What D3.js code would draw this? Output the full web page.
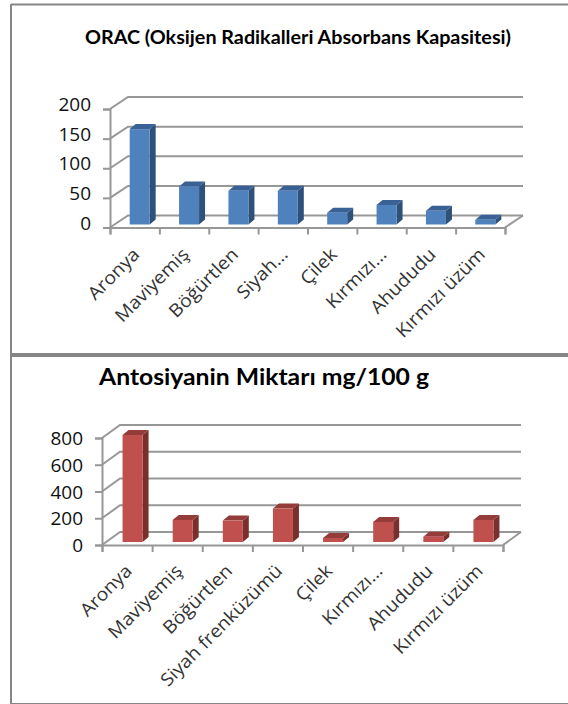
<!DOCTYPE html>
<html>
<head>
<meta charset="utf-8">
<script src="https://cdn.jsdelivr.net/npm/d3@7"></script>
<style>
  html, body { margin: 0; padding: 0; background: #fff; }
  svg { display: block; }
</style>
</head>
<body>
<svg id="chart" width="568" height="704"></svg>
<script>
var oracTitle = "ORAC (Oksijen Radikalleri Absorbans Kapasitesi)";
var oracLabels = ["Aronya", "Maviyemiş", "Böğürtlen", "Siyah…", "Çilek", "Kırmızı…", "Ahududu", "Kırmızı üzüm"];
var oracValues = [161, 64, 57, 57, 20, 33, 23, 8];
var oracTicks = [0, 50, 100, 150, 200];

var antoTitle = "Antosiyanin Miktarı mg/100 g";
var antoLabels = ["Aronya", "Maviyemiş", "Böğürtlen", "Siyah frenküzümü", "Çilek", "Kırmızı…", "Ahududu", "Kırmızı üzüm"];
var antoValues = [800, 165, 160, 250, 30, 150, 40, 165];
var antoTicks = [0, 200, 400, 600, 800];

var svg = d3.select("#chart");
var frameColor = "#868686", gridColor = "#979797";

// panel frame
svg.append("path")
	.attr("d", "M11,4.5H568M11,4V704H568")
	.attr("fill", "none")
	.attr("stroke", frameColor)
	.attr("stroke-width", 2);
svg.append("rect").attr("x", 10).attr("y", 353).attr("width", 558).attr("height", 4).attr("fill", frameColor);

function drawPanel(opt) {
	var g = svg.append("g");
	var x = d3.scaleBand().domain(opt.labels).range([opt.x0, opt.x1]).paddingInner(0).paddingOuter(0);
	var xTicks = d3.scaleLinear().domain([0, opt.labels.length]).range([opt.x0, opt.x1]);
	var y = d3.scaleLinear().domain([0, opt.ticks[opt.ticks.length - 1]]).range([opt.y0, opt.y1]);
	var barW = opt.barW, dx = opt.dx, dy = opt.dy;

	g.append("text")
		.attr("x", opt.titleX).attr("y", opt.titleY)
		.attr("text-anchor", "middle")
		.attr("font-family", "Lato")
		.attr("font-weight", "bold")
		.attr("font-size", opt.titleSize)
		.attr("textLength", opt.titleLen)
		.attr("lengthAdjust", "spacingAndGlyphs")
		.attr("fill", "#000")
		.text(opt.title);

	// back wall gridlines and the slanted side wall
	opt.ticks.forEach(function (t) {
		g.append("path")
			.attr("d", "M" + opt.x0 + "," + y(t) + "L" + (opt.x0 + opt.wallX) + "," + (y(t) - opt.wallY) + "H" + (opt.x1 + opt.wallX))
			.attr("fill", "none")
			.attr("stroke", gridColor)
			.attr("stroke-width", 2);
	});
	// floor right edge
	g.append("line")
		.attr("x1", opt.x1).attr("y1", opt.y0)
		.attr("x2", opt.x1 + opt.wallX).attr("y2", opt.y0 - opt.wallY)
		.attr("stroke", gridColor).attr("stroke-width", 2);

	var yAxis = d3.axisLeft(y).tickValues(opt.ticks).tickSize(7).tickPadding(12);
	var yg = g.append("g").attr("transform", "translate(" + opt.x0 + ",0)").call(yAxis);
	yg.selectAll("text")
		.attr("font-family", "Open Sans")
		.attr("font-size", 19)
		.attr("fill", "#111")
		.attr("y", opt.tickShift);

	var xAxis = d3.axisBottom(xTicks).ticks(opt.labels.length).tickSize(7).tickFormat("");
	g.append("g").attr("transform", "translate(0," + opt.y0 + ")").call(xAxis);

	g.selectAll(".domain").attr("stroke", gridColor).attr("stroke-width", 2);
	g.selectAll(".tick line").attr("stroke", gridColor).attr("stroke-width", 2);

	// 3D columns
	var bars = g.selectAll(".bar").data(opt.values).enter().append("g").attr("class", "bar");
	function left(d, i) { return x(opt.labels[i]) + x.bandwidth() / 2 - barW / 2 + opt.shiftX; }
	var base = y(0) - opt.shiftY;
	function top(d) { return y(d) - opt.shiftY; }

	bars.append("path")
		.attr("fill", opt.sideColor)
		.attr("d", function (d, i) {
			var l = left(d, i) + barW;
			return "M" + l + "," + top(d) + "l" + dx + "," + (-dy) + "V" + (base - dy) + "L" + l + "," + base + "Z";
		});
	bars.append("path")
		.attr("fill", opt.topColor)
		.attr("d", function (d, i) {
			var l = left(d, i);
			return "M" + l + "," + top(d) + "l" + dx + "," + (-dy) + "h" + barW + "l" + (-dx) + "," + dy + "Z";
		});
	bars.append("rect")
		.attr("x", left)
		.attr("y", top)
		.attr("width", barW)
		.attr("height", function (d) { return base - top(d); })
		.attr("fill", opt.color);

	g.selectAll(".cat").data(opt.labels).enter().append("text")
		.attr("class", "cat")
		.attr("text-anchor", "end")
		.attr("font-family", "Open Sans")
		.attr("font-size", 18)
		.attr("fill", "#333")
		.attr("transform", function (d) {
			return "translate(" + (x(d) + x.bandwidth() / 2 + opt.labelDx) + "," + (opt.y0 + opt.labelDy) + ") rotate(-45) scale(1.08,1)";
		})
		.text(function (d) { return d; });
}

drawPanel({
	title: oracTitle, labels: oracLabels, values: oracValues, ticks: oracTicks,
	titleX: 298, titleY: 44, titleSize: 18.5, titleLen: 426,
	x0: 110, x1: 505, y0: 227.5, y1: 109,
	wallX: 18, wallY: 12, barW: 20, dx: 6, dy: 5, shiftX: 5, shiftY: 3,
	tickShift: -4.5, labelDx: 6, labelDy: 28,
	color: "#4f81bd", sideColor: "#2f5078", topColor: "#3a6195"
});

drawPanel({
	title: antoTitle, labels: antoLabels, values: antoValues, ticks: antoTicks,
	titleX: 264, titleY: 385, titleSize: 22.5, titleLen: 330,
	x0: 102, x1: 503, y0: 545, y1: 438,
	wallX: 18, wallY: 13, barW: 20, dx: 6, dy: 5, shiftX: 5.5, shiftY: 3,
	tickShift: 0.5, labelDx: 6, labelDy: 27,
	color: "#c0504d", sideColor: "#7a2f2d", topColor: "#943c3a"
});
</script>
</body>
</html>
